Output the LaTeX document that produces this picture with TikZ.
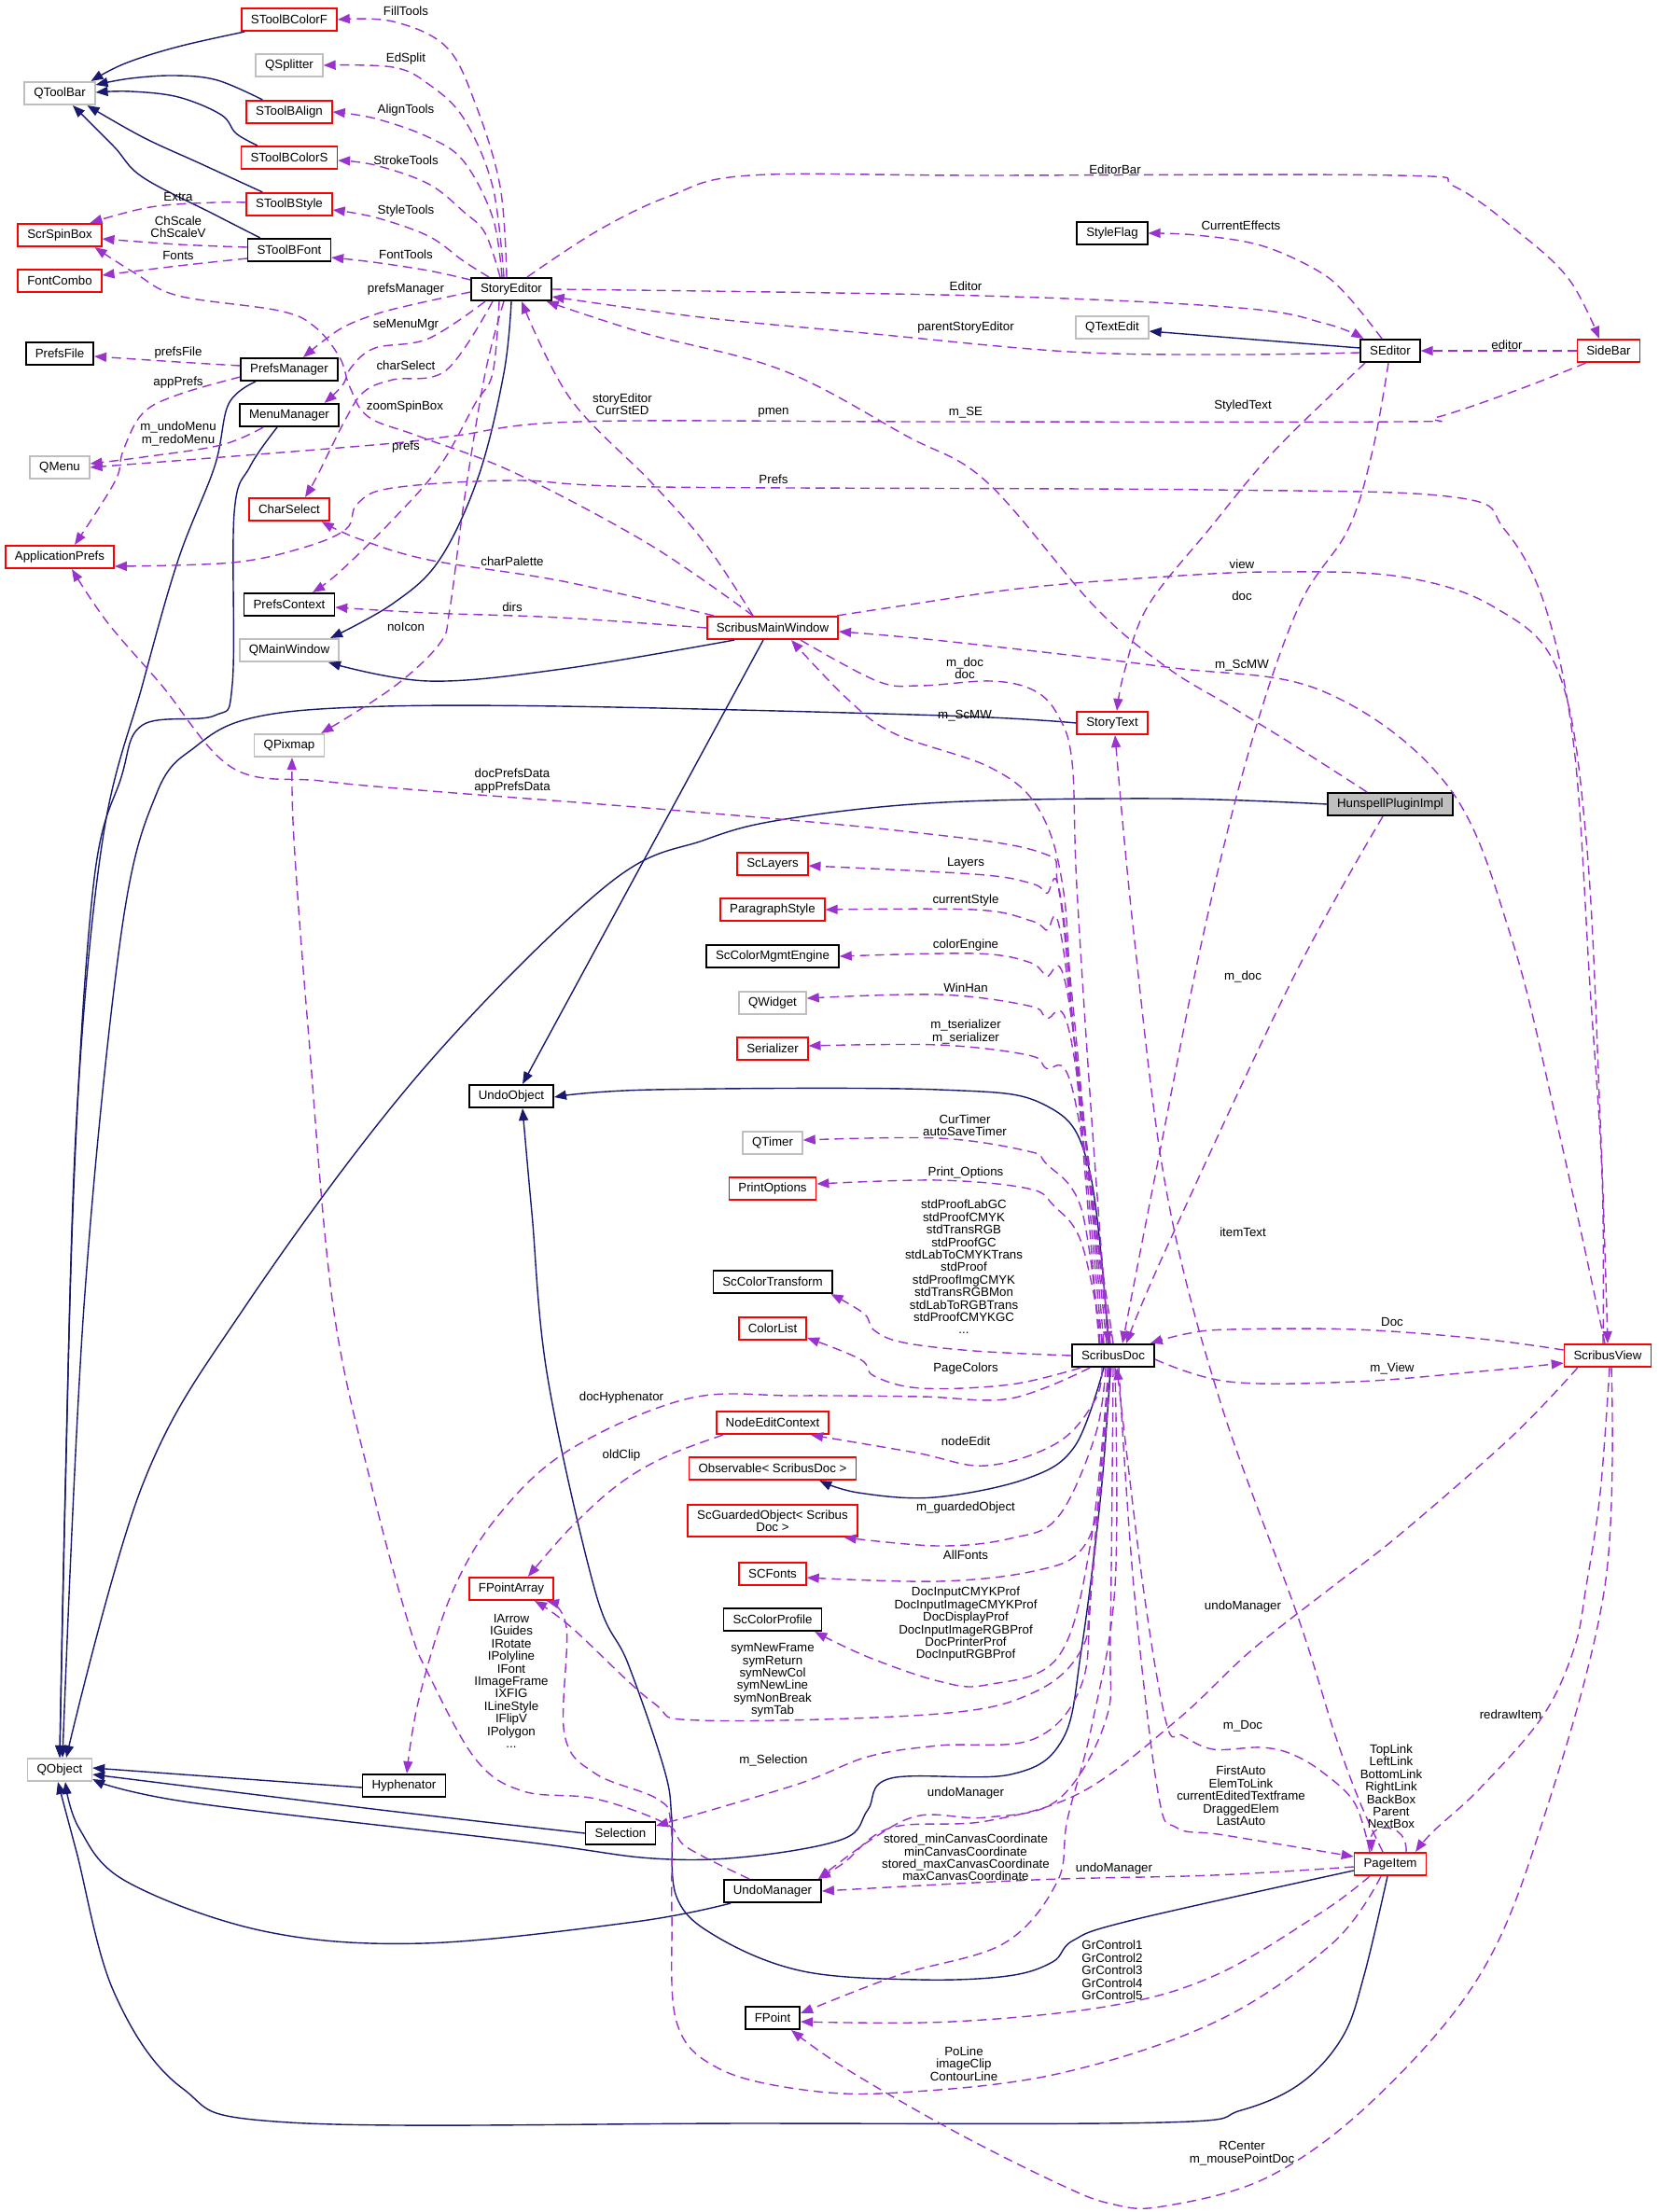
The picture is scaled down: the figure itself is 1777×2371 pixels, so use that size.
\documentclass[tikz,border=0pt]{standalone}
\usepackage{fontspec}
\setmainfont{Liberation Sans}
\usetikzlibrary{arrows.meta}

\definecolor{inhblue}{HTML}{191970}
\definecolor{useviolet}{HTML}{9A32CD}
\definecolor{extgray}{HTML}{BFBFBF}

\tikzset{
  cls/.style={draw=black, line width=1.6pt, fill=white, font=\fontsize{13.3}{13.4}\selectfont,
    inner xsep=10pt, inner ysep=0pt, minimum height=24.5pt},
  redcls/.style={cls, draw=red},
  extcls/.style={cls, draw=extgray},
  rootcls/.style={cls, fill=extgray},
  inh/.style={draw=inhblue, line width=1.4pt, smooth, tension=0.6,
    -{Triangle[length=13pt,width=10pt]}},
  use/.style={draw=useviolet, line width=1.4pt, dash pattern=on 10pt off 6pt, smooth, tension=0.6,
    -{Triangle[length=13pt,width=10pt]}},
  lbl/.style={font=\fontsize{13.3}{13.4}\selectfont, align=center, inner sep=0pt},
}

\begin{document}
\begin{tikzpicture}[x=1pt,y=-1pt]
\useasboundingbox (0,0) rectangle (1777,2371);

% classes
\node[extcls] (qtoolbar) at (64,100) {QToolBar};
\node[redcls] (scrspinbox) at (64,252) {ScrSpinBox};
\node[redcls] (fontcombo) at (64,301) {FontCombo};
\node[cls] (prefsfile) at (64,379) {PrefsFile};
\node[extcls] (qmenu) at (64,501) {QMenu};
\node[redcls] (appprefs) at (64,597) {ApplicationPrefs};
\node[extcls] (qobject) at (64,1897) {QObject};
\node[redcls] (tbcolorf) at (310,21) {SToolBColorF};
\node[extcls] (qsplitter) at (310,70) {QSplitter};
\node[redcls] (tbalign) at (310,120) {SToolBAlign};
\node[redcls] (tbcolors) at (310,169) {SToolBColorS};
\node[redcls] (tbstyle) at (310,219) {SToolBStyle};
\node[cls] (tbfont) at (310,268) {SToolBFont};
\node[cls] (prefsmgr) at (310,396) {PrefsManager};
\node[cls] (menumgr) at (310,445) {MenuManager};
\node[redcls] (charselect) at (310,546) {CharSelect};
\node[cls] (prefsctx) at (310,648) {PrefsContext};
\node[extcls] (qmainwin) at (310,697) {QMainWindow};
\node[extcls] (qpixmap) at (310,799) {QPixmap};
\node[cls] (storyeditor) at (548,310) {StoryEditor};
\node[cls] (undoobject) at (548,1175) {UndoObject};
\node[redcls] (fpointarray) at (548,1703) {FPointArray};
\node[cls] (hyphenator) at (433,1914) {Hyphenator};
\node[cls] (selection) at (665,1965) {Selection};
\node[redcls] (mainwin) at (828,673) {ScribusMainWindow};
\node[redcls] (sclayers) at (828,926) {ScLayers};
\node[redcls] (parstyle) at (828,975) {ParagraphStyle};
\node[cls] (cmsengine) at (828,1025) {ScColorMgmtEngine};
\node[extcls] (qwidget) at (828,1075) {QWidget};
\node[redcls] (serializer) at (828,1124) {Serializer};
\node[extcls] (qtimer) at (828,1225) {QTimer};
\node[redcls] (printopts) at (828,1274) {PrintOptions};
\node[cls] (ctransform) at (828,1374) {ScColorTransform};
\node[redcls] (colorlist) at (828,1424) {ColorList};
\node[redcls] (nodeedit) at (828,1525) {NodeEditContext};
\node[redcls] (observable) at (828,1574) {Observable< ScribusDoc >};
\node[redcls, align=center, inner ysep=5.5pt] (guarded) at (828,1630) {ScGuardedObject< Scribus\\Doc >};
\node[redcls] (scfonts) at (828,1687) {SCFonts};
\node[cls] (cprofile) at (828,1736) {ScColorProfile};
\node[cls] (undomgr) at (828,2027) {UndoManager};
\node[cls] (fpoint) at (828,2163) {FPoint};
\node[cls] (styleflag) at (1192,250) {StyleFlag};
\node[extcls] (qtextedit) at (1192,351) {QTextEdit};
\node[redcls] (storytext) at (1192,775) {StoryText};
\node[cls] (doc) at (1193,1453) {ScribusDoc};
\node[cls] (seditor) at (1490,376) {SEditor};
\node[rootcls] (hunspell) at (1490,862) {HunspellPluginImpl};
\node[redcls] (pageitem) at (1490,1998) {PageItem};
\node[redcls] (sidebar) at (1724,376) {SideBar};
\node[redcls] (view) at (1723,1453) {ScribusView};

% inheritance
\draw[inh] plot coordinates {([xshift=4pt]tbcolorf.south west) (191,50) (134,68) ([xshift=-5pt]qtoolbar.north east)};
\draw[inh] plot coordinates {([xshift=18pt]tbalign.north west) (233,86) (188,81) (140,84) ([yshift=9pt]qtoolbar.east)};
\draw[inh] plot coordinates {([xshift=18pt]tbcolors.north west) (253,143) (237,123) (191,104) (140,98) ([yshift=1pt]qtoolbar.east)};
\draw[inh] plot coordinates {([xshift=18pt]tbstyle.north west) (214,175) (153,147) ([xshift=-9pt]qtoolbar.south east)};
\draw[inh] plot coordinates {([xshift=14pt]tbfont.north west) (230,230) (153,190) (122,157) ([xshift=14pt]qtoolbar.south)};
\draw[inh] ([yshift=3pt]seditor.west) -- ([yshift=-4pt]qtextedit.east);
\draw[inh] plot coordinates {(storyeditor.south) (540,400) (513,510) (471,600) (421,647) ([xshift=-10pt]qmainwin.north east)};
\draw[inh] plot coordinates {([xshift=30pt]mainwin.south west) (603,717) (459,730) ([xshift=-12pt]qmainwin.south east)};
\draw[inh] ([xshift=-10pt]mainwin.south) -- ([xshift=12pt]undoobject.north);
\draw[inh] plot coordinates {([xshift=-36pt]prefsmgr.south) (245,433) (230,500) (191,600) (153,733) (110,900) (82,1200) (70,1600) (qobject.north)};
\draw[inh] plot coordinates {([xshift=-13pt]menumgr.south) (268,500) (251,550) (249,733) (230,767) (153,777) (130,833) (100,950) (78,1300) (qobject.north)};
\draw[inh] plot coordinates {(storytext.west) (1011,767) (600,757) (383,758) (268,770) (210,800) (168,850) (130,1000) (90,1400) ([xshift=3pt]qobject.north)};
\draw[inh] plot coordinates {(hunspell.west) (1250,856) (1011,860) (848,877) (756,900) (649,950) (450,1150) (263,1400) (153,1591) ([xshift=7pt]qobject.north)};
\draw[inh] ([yshift=-2pt]hyphenator.west) -- ([yshift=2pt]qobject.east);
\draw[inh] plot coordinates {(selection.west) (408,1940) ([yshift=-5pt]qobject.east)};
\draw[inh] plot coordinates {([xshift=-3pt]doc.south) (1180,1600) (1159,1768) (1139,1864) (1083,1902) (955,1906) (930,1940) (904,1971) (802,1990) (700,1992) (561,1974) (204,1932) ([yshift=-10pt]qobject.east)};
\draw[inh] plot coordinates {([xshift=-45pt]undomgr.south) (680,2060) (453,2083) (283,2070) (136,2017) (85,1960) ([xshift=6pt]qobject.south)};
\draw[inh] plot coordinates {([xshift=-3pt]pageitem.south) (1462,2117) (1439,2183) (1394,2233) (1330,2262) (1246,2275) (800,2276) (310,2275) (195,2238) (122,2135) (82,1985) ([xshift=-2pt]qobject.south)};
\draw[inh] plot coordinates {([yshift=-7pt]pageitem.west) (1210,2059) (1150,2080) (1128,2103) (1080,2118) (986,2122) (861,2113) (770,2077) (725,2033) (720,1950) (712,1897) (673,1783) (638,1706) (587,1477) (570,1300) ([xshift=12pt]undoobject.south)};
\draw[inh] plot coordinates {([xshift=-5pt]doc.north) (1167,1252) (1121,1185) (1006,1168) (700,1168) ([yshift=-1pt]undoobject.east)};
\draw[inh] plot coordinates {([xshift=-10pt]doc.south) (1152,1550) (1100,1585) (1001,1605) (920,1600) ([xshift=-40pt]observable.south east)};

% usage, from StoryEditor and its tool bars
\draw[use] plot coordinates {([xshift=-5pt]storyeditor.north) (536,200) (509,110) (478,50) (421,23) (tbcolorf.east)};
\draw[use] plot coordinates {([xshift=-8pt]storyeditor.north) (528,200) (497,127) (459,90) (421,72) (qsplitter.east)};
\draw[use] plot coordinates {([xshift=-10pt]storyeditor.north) (528,233) (497,173) (459,147) (402,127) (tbalign.east)};
\draw[use] plot coordinates {([xshift=-12pt]storyeditor.north) (520,250) (497,227) (459,197) (402,177) ([yshift=-3pt]tbcolors.east)};
\draw[use] plot coordinates {([xshift=-24pt]storyeditor.north) (497,280) (459,253) (402,233) ([yshift=-6pt]tbstyle.east)};
\draw[use] plot coordinates {([yshift=10pt]storyeditor.west) (459,290) (400,281) ([yshift=-8pt]tbfont.east)};
\draw[use] plot coordinates {([yshift=-3pt]storyeditor.west) (440,327) (402,337) (364,353) ([xshift=15pt]prefsmgr.north)};
\draw[use] plot coordinates {([xshift=-28pt]storyeditor.south) (459,363) (402,373) (377,393) (367,413) ([xshift=-16pt]menumgr.north east)};
\draw[use] plot coordinates {([xshift=-20pt]storyeditor.south) (478,397) (421,407) (390,420) (370,450) (340,510) ([xshift=17pt]charselect.north)};
\draw[use] plot coordinates {([xshift=-13pt]storyeditor.south) (528,400) (509,433) (471,500) (421,557) (364,613) ([xshift=25pt]prefsctx.north)};
\draw[use] plot coordinates {([xshift=-8pt]storyeditor.south) (520,400) (498,533) (482,653) (471,690) (421,737) ([xshift=-4pt]qpixmap.north east)};
\draw[use] plot coordinates {(storyeditor.east) (1050,317) (1328,330) (1421,347) ([xshift=4pt]seditor.north west)};
\draw[use] plot coordinates {([xshift=17pt]storyeditor.north) (641,247) (718,210) (804,188) (1050,188) (1497,188) (1559,200) (1629,250) (1682,300) ([xshift=-10pt]sidebar.north)};
\draw[use] plot coordinates {([yshift=2pt]tbstyle.west) (230,217) (161,222) ([xshift=-13pt]scrspinbox.north east)};
\draw[use] plot coordinates {([yshift=3pt]tbfont.west) (191,262) ([yshift=-4pt]scrspinbox.east)};
\draw[use] plot coordinates {([yshift=-9pt]tbfont.west) (191,285) ([yshift=6pt]fontcombo.east)};
\draw[use] plot coordinates {([yshift=4pt]prefsmgr.west) (191,388) ([yshift=-3pt]prefsfile.east)};
\draw[use] plot coordinates {([yshift=-8pt]prefsmgr.west) (191,423) (153,443) (132,483) (126,510) (107,543) ([xshift=16pt]appprefs.north)};
\draw[use] plot coordinates {([xshift=-28pt]menumgr.south) (237,477) (153,490) ([yshift=4pt]qmenu.east)};

% usage, SEditor, SideBar, HunspellPluginImpl
\draw[use] plot coordinates {([xshift=10pt]sidebar.south west) (1629,417) (1541,447) (1497,452) (1000,452) (620,452) (488,467) (400,477) (qmenu.east)};
\draw[use] (sidebar.west) -- (seditor.east);
\draw[use] plot coordinates {([yshift=-2pt]seditor.west) (1322,380) (1146,377) (927,357) (751,340) ([yshift=-8pt]storyeditor.east)};
\draw[use] plot coordinates {([xshift=-9pt]seditor.north) (1444,317) (1412,290) (1351,263) (1282,252) (styleflag.east)};
\draw[use] plot coordinates {([xshift=-27pt]seditor.south) (1366,483) (1296,567) (1230,650) (1205,720) ([xshift=5pt]storytext.north)};
\draw[use] plot coordinates {([xshift=-2pt]seditor.south) (1471,483) (1445,567) (1392,650) (1340,800) (1290,1000) (1240,1250) ([xshift=10pt]doc.north)};
\draw[use] plot coordinates {([xshift=-25pt]hunspell.north) (1384,797) (1317,756) (1250,715) (1173,650) (1058,517) (971,467) (839,397) (690,357) ([xshift=-6pt]storyeditor.south east)};
\draw[use] plot coordinates {([xshift=-8pt]hunspell.south) (1384,1052) (1250,1338) ([xshift=14pt]doc.north)};

% usage, ScribusMainWindow and ScribusView
\draw[use] plot coordinates {([xshift=-21pt]mainwin.north) (695,583) (552,507) (450,468) (395,447) (375,415) (364,383) (337,350) (299,333) (191,317) (145,293) ([xshift=-8pt]scrspinbox.south east)};
\draw[use] plot coordinates {([xshift=-21pt]mainwin.north) (756,583) (698,517) (611,427) ([xshift=11pt]storyeditor.south)};
\draw[use] plot coordinates {([xshift=8pt]mainwin.north west) (603,623) (459,600) (383,577) ([xshift=-9pt]charselect.south east)};
\draw[use] plot coordinates {(mainwin.west) (600,662) (459,657) ([yshift=-3pt]prefsctx.east)};
\draw[use] plot coordinates {([xshift=-5pt]view.north) (1717,1261) (1704,1057) (1687,802) (1656,650) (1612,567) (1559,533) (1297,525) (705,522) (552,515) (421,523) (383,540) (371,567) (325,587) (249,603) ([yshift=-10pt]appprefs.east)};
\draw[use] plot coordinates {([xshift=-2pt]mainwin.north east) (962,650) (1100,630) (1250,618) (1366,613) (1500,618) (1600,650) (1670,720) (1700,900) (1715,1200) (view.north)};
\draw[use] plot coordinates {([xshift=-3pt]view.north) (1670,1210) (1620,1006) (1552,843) (1418,741) (1250,715) (1011,687) ([yshift=-4pt]mainwin.east)};
\draw[use] plot coordinates {([xshift=-15pt]doc.north) (1150,1100) (1139,950) (1113,867) (1062,823) (960,787) (909,750) ([xshift=20pt]mainwin.south)};
\draw[use] plot coordinates {([xshift=30pt]mainwin.south) (940,730) (986,735) (1062,730) (1108,740) (1134,767) (1149,817) (1154,950) (1170,1200) ([xshift=-5pt]doc.north)};

% usage, from ScribusDoc
\draw[use] plot coordinates {([xshift=-12pt]doc.north) (1150,1100) (1134,950) (1113,913) (960,890) (705,867) (450,847) (344,837) (249,823) (172,733) (115,667) ([xshift=13pt]appprefs.south)};
\draw[use] plot coordinates {([xshift=-10pt]doc.north) (1140,984) (1121,957) (1102,946) (1044,937) ([yshift=-2pt]sclayers.east)};
\draw[use] plot coordinates {([xshift=-7pt]doc.north) (1140,1020) (1121,997) (1102,986) (1044,975) (parstyle.east)};
\draw[use] plot coordinates {([xshift=-5pt]doc.north) (1145,1070) (1121,1046) (1102,1031) (1044,1022) (cmsengine.east)};
\draw[use] plot coordinates {([xshift=-3pt]doc.north) (1148,1115) (1121,1091) (1102,1078) (1006,1066) ([yshift=5pt]qwidget.east)};
\draw[use] plot coordinates {(doc.north) (1150,1170) (1121,1145) (1102,1131) (1006,1120) ([yshift=3pt]serializer.east)};
\draw[use] plot coordinates {([xshift=-14pt]doc.north) (1159,1296) (1121,1247) (1102,1234) (1006,1220) ([yshift=3pt]qtimer.east)};
\draw[use] plot coordinates {([xshift=-11pt]doc.north) (1159,1332) (1129,1292) (1102,1274) (1006,1265) ([yshift=5pt]printopts.east)};
\draw[use] plot coordinates {(doc.west) (1044,1448) (968,1439) (937,1426) (926,1408) ([xshift=-2pt]ctransform.south east)};
\draw[use] plot coordinates {([xshift=10pt]doc.south west) (1083,1484) (987,1488) (937,1475) (922,1457) ([yshift=-10pt]colorlist.east)};
\draw[use] plot coordinates {([xshift=20pt]doc.south west) (1083,1499) (987,1497) (853,1496) (738,1499) (612,1553) (536,1622) (485,1706) (449,1821) ([xshift=3pt]hyphenator.north)};
\draw[use] plot coordinates {([xshift=-12pt]doc.south) (1174,1500) (1134,1546) (1057,1571) (981,1557) ([xshift=-20pt]nodeedit.south east)};
\draw[use] plot coordinates {([xshift=-8pt]doc.south) (1174,1538) (1134,1626) (1083,1649) (1006,1657) ([xshift=-15pt]guarded.south east)};
\draw[use] plot coordinates {([xshift=-6pt]doc.south) (1180,1596) (1159,1661) (1108,1684) (1006,1695) ([yshift=-4pt]scfonts.east)};
\draw[use] plot coordinates {([xshift=-5pt]doc.south) (1169,1653) (1134,1776) (1057,1806) (1006,1802) (930,1776) ([xshift=-8pt]cprofile.south east)};
\draw[use] plot coordinates {([xshift=-4pt]doc.south) (1169,1700) (1159,1768) (1108,1814) (1006,1837) (751,1844) (700,1825) (612,1744) ([xshift=25pt]fpointarray.south)};
\draw[use] plot coordinates {([xshift=-2pt]doc.south) (1170,1700) (1159,1806) (1108,1864) (1006,1871) (930,1883) (853,1913) ([yshift=8pt]selection.east)};
\draw[use] plot coordinates {(doc.south) (1190,1750) (1185,1844) (1134,1929) (1057,1948) (986,1946) (935,1971) ([xshift=-4pt]undomgr.north east)};
\draw[use] plot coordinates {([xshift=2pt]doc.south) (1195,1700) (1170,1850) (1144,1950) (1133,2017) (1076,2083) (963,2117) ([yshift=5pt]fpoint.east)};
\draw[use] plot coordinates {([xshift=6pt]doc.south) (1215,1700) (1241,1921) (1261,1959) (1312,1967) ([yshift=8pt]pageitem.west)};
\draw[use] plot coordinates {([yshift=-4pt]doc.east) (1317,1481) (1452,1481) (1586,1470) ([yshift=-8pt]view.west)};

% usage, from ScribusView and PageItem
\draw[use] plot coordinates {([yshift=6pt]view.west) (1586,1435) (1452,1425) (1317,1425) (1270,1430) ([xshift=-5pt]doc.north east)};
\draw[use] plot coordinates {([xshift=15pt]view.south west) (1620,1540) (1500,1645) (1425,1703) (1340,1770) (1261,1844) (1159,1921) (1057,1952) (955,1959) (904,1997) ([xshift=-4pt]undomgr.north east)};
\draw[use] plot coordinates {([xshift=2pt]view.south) (1715,1600) (1700,1700) (1687,1767) (1653,1840) (1586,1917) (1536,1963) ([xshift=27pt]pageitem.north)};
\draw[use] plot coordinates {([xshift=4pt]view.south) (1720,1700) (1654,1950) (1586,2117) (1473,2250) (1360,2333) (1246,2365) (1190,2362) (1133,2340) (1020,2283) (906,2217) ([xshift=20pt]fpoint.south)};
\draw[use] plot coordinates {([xshift=-22pt]pageitem.north) (1452,1933) (1418,1900) (1384,1880) (1351,1873) (1300,1875) (1267,1860) (1250,1847) (1225,1700) ([xshift=4pt]doc.south)};
\draw[use] ([xshift=17pt]pageitem.north) .. controls +(2,-32) and +(-2,-32) .. ([xshift=-20pt]pageitem.north);
\draw[use] plot coordinates {([xshift=-8pt]pageitem.north) (1458,1933) (1431,1860) (1391,1733) (1307,1500) (1250,1276) (1215,1000) ([xshift=3pt]storytext.south)};
\draw[use] plot coordinates {([yshift=-3pt]pageitem.west) (1300,2010) (1108,2015) (undomgr.east)};
\draw[use] plot coordinates {([xshift=-22pt]pageitem.south) (1416,2050) (1303,2117) (1190,2150) (1020,2167) ([yshift=-4pt]fpoint.east)};
\draw[use] plot coordinates {([xshift=-10pt]pageitem.south) (1428,2083) (1303,2167) (1133,2223) (963,2243) (861,2240) (770,2217) (725,2167) (720,2050) (719,1955) (704,1928) (638,1901) (605,1859) (607,1744) ([xshift=-8pt]fpointarray.south east)};
\draw[use] plot coordinates {([xshift=-25pt]undomgr.north) (736,1980) (714,1955) (638,1928) (561,1920) (510,1886) (459,1794) (439,1744) (400,1600) (357,1400) (330,1100) (315,900) ([xshift=3pt]qpixmap.south)};
\draw[use] plot coordinates {([xshift=8pt]nodeedit.south west) (714,1561) (663,1591) (612,1637) ([xshift=-28pt]fpointarray.north east)};

% edge labels
\node[lbl] (lFillTools) at (435,12) {FillTools};
\node[lbl] (lEdSplit) at (435,63) {EdSplit};
\node[lbl] (lAlignTools) at (435,118) {AlignTools};
\node[lbl] (lStrokeTools) at (435,172) {StrokeTools};
\node[lbl] (lStyleTools) at (435,226) {StyleTools};
\node[lbl] (lFontTools) at (435,273) {FontTools};
\node[lbl] (lprefsManager) at (435,310) {prefsManager};
\node[lbl] (lseMenuMgr) at (435,348) {seMenuMgr};
\node[lbl] (lcharSelect) at (435,392) {charSelect};
\node[lbl] (lzoomSpinBox) at (434,436) {zoomSpinBox};
\node[lbl] (lprefs) at (435,479) {prefs};
\node[lbl] (lnoIcon) at (435,672) {noIcon};
\node[lbl] (lExtra) at (191,211) {Extra};
\node[lbl] (lChScale) at (191,243) {ChScale\\ChScaleV};
\node[lbl] (lFonts) at (191,274) {Fonts};
\node[lbl] (lprefsFile) at (191,378) {prefsFile};
\node[lbl] (lappPrefs) at (191,410) {appPrefs};
\node[lbl] (lundoMenu) at (191,465) {m\_undoMenu\\m\_redoMenu};
\node[lbl] (lstoryEditor) at (667,433) {storyEditor\\CurrStED};
\node[lbl] (lpmen) at (829,442) {pmen};
\node[lbl] (lmSE) at (1035,442) {m\_SE};
\node[lbl] (lEditor) at (1035,307) {Editor};
\node[lbl] (lparent) at (1035,351) {parentStoryEditor};
\node[lbl] (lEditorBar) at (1195,182) {EditorBar};
\node[lbl] (lCurrentEffects) at (1330,242) {CurrentEffects};
\node[lbl] (leditor) at (1615,370) {editor};
\node[lbl] (lStyledText) at (1332,435) {StyledText};
\node[lbl] (ldoc) at (1331,639) {doc};
\node[lbl] (lPrefs) at (829,514) {Prefs};
\node[lbl] (lcharPalette) at (549,602) {charPalette};
\node[lbl] (ldirs) at (549,651) {dirs};
\node[lbl] (lview) at (1331,605) {view};
\node[lbl] (lScMWview) at (1331,713) {m\_ScMW};
\node[lbl] (lmdoc) at (1034,716) {m\_doc\\doc};
\node[lbl] (lScMWdoc) at (1034,767) {m\_ScMW};
\node[lbl] (lPrefsData) at (549,837) {docPrefsData\\appPrefsData};
\node[lbl] (lLayers) at (1035,925) {Layers};
\node[lbl] (lcurrentStyle) at (1035,965) {currentStyle};
\node[lbl] (lcolorEngine) at (1035,1013) {colorEngine};
\node[lbl] (lWinHan) at (1035,1059) {WinHan};
\node[lbl] (lserializer) at (1035,1106) {m\_tserializer\\m\_serializer};
\node[lbl] (lhsdoc) at (1332,1047) {m\_doc};
\node[lbl] (lTimer) at (1034,1206) {CurTimer\\autoSaveTimer};
\node[lbl] (lPrintOptions) at (1035,1257) {Print\_Options};
\node[lbl] (lstdProof) at (1033,1358) {stdProofLabGC\\stdProofCMYK\\stdTransRGB\\stdProofGC\\stdLabToCMYKTrans\\stdProof\\stdProofImgCMYK\\stdTransRGBMon\\stdLabToRGBTrans\\stdProofCMYKGC\\...};
\node[lbl] (lPageColors) at (1035,1467) {PageColors};
\node[lbl] (litemText) at (1332,1321) {itemText};
\node[lbl] (lDoc) at (1492,1417) {Doc};
\node[lbl] (lmView) at (1492,1467) {m\_View};
\node[lbl] (ldocHyphenator) at (666,1498) {docHyphenator};
\node[lbl] (lnodeEdit) at (1035,1545) {nodeEdit};
\node[lbl] (loldClip) at (666,1560) {oldClip};
\node[lbl] (lguarded) at (1035,1616) {m\_guardedObject};
\node[lbl] (lAllFonts) at (1035,1667) {AllFonts};
\node[lbl] (lDocInput) at (1035,1741) {DocInputCMYKProf\\DocInputImageCMYKProf\\DocDisplayProf\\DocInputImageRGBProf\\DocPrinterProf\\DocInputRGBProf};
\node[lbl] (lundoView) at (1332,1722) {undoManager};
\node[lbl] (lIArrow) at (548,1802) {IArrow\\IGuides\\IRotate\\IPolyline\\IFont\\IImageFrame\\IXFIG\\ILineStyle\\IFlipV\\IPolygon\\...};
\node[lbl] (lsym) at (828,1801) {symNewFrame\\symReturn\\symNewCol\\symNewLine\\symNonBreak\\symTab};
\node[lbl] (lredrawItem) at (1619,1838) {redrawItem};
\node[lbl] (lmDoc) at (1332,1850) {m\_Doc};
\node[lbl] (lmSelection) at (829,1887) {m\_Selection};
\node[lbl] (lFirstAuto) at (1330,1925) {FirstAuto\\ElemToLink\\currentEditedTextframe\\DraggedElem\\LastAuto};
\node[lbl] (lTopLink) at (1491,1915) {TopLink\\LeftLink\\BottomLink\\RightLink\\BackBox\\Parent\\NextBox};
\node[lbl] (lundoDoc) at (1035,1922) {undoManager};
\node[lbl] (lCanvas) at (1035,1991) {stored\_minCanvasCoordinate\\minCanvasCoordinate\\stored\_maxCanvasCoordinate\\maxCanvasCoordinate};
\node[lbl] (lundoItem) at (1194,2003) {undoManager};
\node[lbl] (lGrControl) at (1192,2112) {GrControl1\\GrControl2\\GrControl3\\GrControl4\\GrControl5};
\node[lbl] (lPoLine) at (1033,2212) {PoLine\\imageClip\\ContourLine};
\node[lbl] (lRCenter) at (1331,2308) {RCenter\\m\_mousePointDoc};
\end{tikzpicture}
\end{document}
